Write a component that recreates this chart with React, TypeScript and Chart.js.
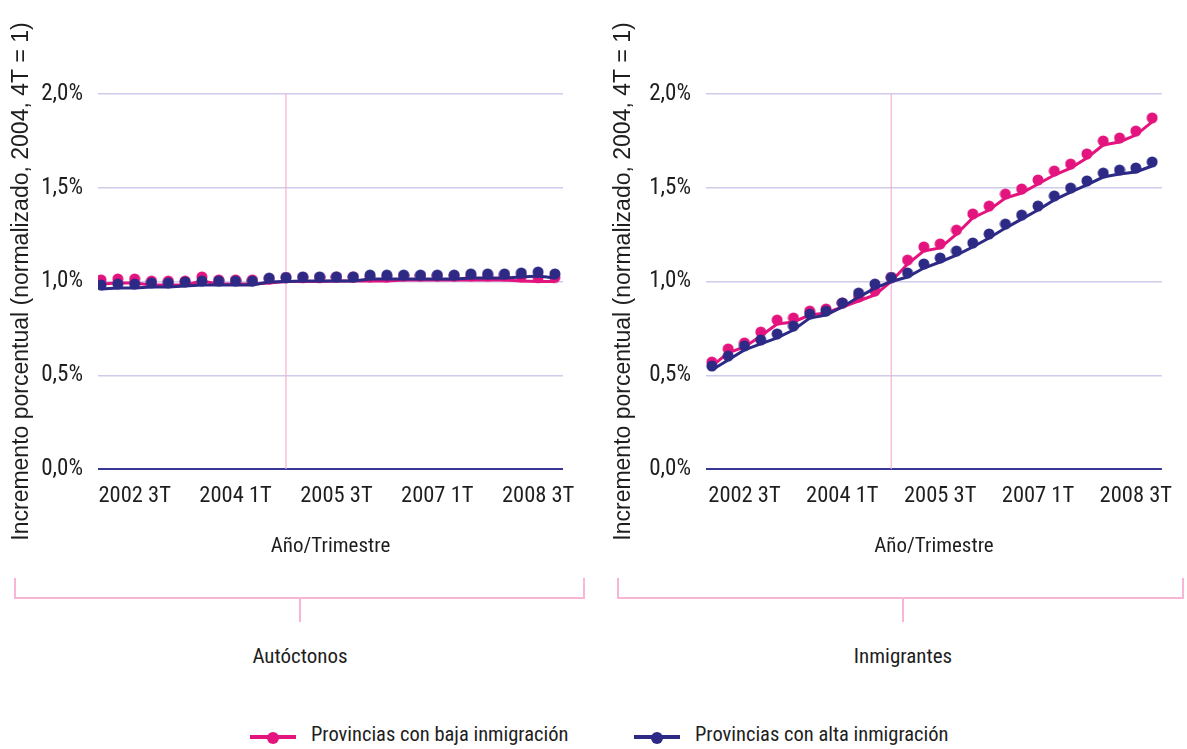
import React, { useEffect, useRef } from 'react';
import { Chart, registerables } from 'chart.js';

Chart.register(...registerables);

// ---------- DATA ----------
const quarters = [
  '2002 1T', '2002 2T', '2002 3T', '2002 4T',
  '2003 1T', '2003 2T', '2003 3T', '2003 4T',
  '2004 1T', '2004 2T', '2004 3T', '2004 4T',
  '2005 1T', '2005 2T', '2005 3T', '2005 4T',
  '2006 1T', '2006 2T', '2006 3T', '2006 4T',
  '2007 1T', '2007 2T', '2007 3T', '2007 4T',
  '2008 1T', '2008 2T', '2008 3T', '2008 4T',
];
const xTickIndexes = [2, 8, 14, 20, 26];
const baseQuarterIndex = 11; // 2004 4T = 1
const yTickValues = [0, 0.5, 1.0, 1.5, 2.0];

// Autóctonos (percent)
const autoBaja = [
  0.987, 0.992, 0.992, 0.981, 0.981, 0.981, 1.003, 0.987, 0.987, 0.987,
  0.992, 1.0, 1.0, 1.0, 1.003, 1.003, 1.003, 1.003, 1.008, 1.008,
  1.008, 1.008, 1.008, 1.008, 1.008, 1.003, 1.0, 1.0,
];
const autoAlta = [
  0.96, 0.965, 0.965, 0.971, 0.971, 0.976, 0.981, 0.981, 0.981, 0.981,
  0.997, 1.0, 1.003, 1.003, 1.003, 1.003, 1.013, 1.013, 1.013, 1.013,
  1.013, 1.013, 1.019, 1.019, 1.019, 1.024, 1.029, 1.019,
];
// Inmigrantes (percent)
const inmiBaja = [
  0.549, 0.619, 0.651, 0.709, 0.773, 0.784, 0.821, 0.832, 0.864, 0.896,
  0.928, 1.0, 1.093, 1.163, 1.179, 1.253, 1.339, 1.381, 1.445, 1.472,
  1.52, 1.568, 1.605, 1.659, 1.728, 1.744, 1.781, 1.851,
];
const inmiAlta = [
  0.528, 0.581, 0.635, 0.667, 0.699, 0.741, 0.805, 0.821, 0.864, 0.917,
  0.965, 1.0, 1.024, 1.072, 1.104, 1.141, 1.184, 1.232, 1.285, 1.333,
  1.381, 1.435, 1.477, 1.515, 1.557, 1.573, 1.584, 1.616,
];

const seriesNames = ['Provincias con baja inmigración', 'Provincias con alta inmigración'];
const panelNames = ['Autóctonos', 'Inmigrantes'];
const yTitle = 'Incremento porcentual (normalizado, 2004, 4T = 1)';
const xTitle = 'Año/Trimestre';

// ---------- STYLE ----------
const PINK = '#e4147e';
const NAVY = '#2d2a86';
const GRID = '#cfcbea';
const ZERO = '#3a3696';
const VLINE = '#f4b0d2';
const BRACKET = '#f7b6d6';
const TEXT = '#1e1e1e';
const NARROW = "'Liberation Sans Narrow', 'Arial Narrow', 'Roboto Condensed', 'DejaVu Sans Condensed', 'Liberation Sans', sans-serif";
const WIDE = "'Liberation Sans', Arial, sans-serif";

function makeDot(color: string) {
  const c = document.createElement('canvas');
  c.width = 12;
  c.height = 20;
  const g = c.getContext('2d')!;
  g.fillStyle = color;
  g.beginPath();
  g.arc(6, 6, 5.5, 0, Math.PI * 2);
  g.fill();
  return c;
}

type PanelProps = {
  left: number;
  width: number;
  height: number;
  axisWidth: number;
  rightPad: number;
  titlePad: number;
  xMin: number;
  xMax: number;
  baja: number[];
  alta: number[];
};

function Panel(p: PanelProps) {
  const ref = useRef<HTMLCanvasElement | null>(null);
  useEffect(() => {
    if (!ref.current) return;
    const vline = {
      id: 'vline',
      beforeDatasetsDraw(chart: any) {
        const { ctx, chartArea, scales } = chart;
        const x = scales.x.getPixelForValue(baseQuarterIndex);
        ctx.save();
        ctx.strokeStyle = VLINE;
        ctx.lineWidth = 1.2;
        ctx.beginPath();
        ctx.moveTo(x, chartArea.top);
        ctx.lineTo(x, chartArea.bottom);
        ctx.stroke();
        ctx.restore();
      },
    };
    const chart = new Chart(ref.current, {
      type: 'line',
      data: {
        datasets: [
          {
            label: seriesNames[1],
            data: p.alta.map((v, i) => ({ x: i, y: v })),
            borderColor: NAVY,
            backgroundColor: NAVY,
            borderWidth: 3,
            pointStyle: makeDot(NAVY) as any,
            pointRadius: 6,
            tension: 0,
          },
          {
            label: seriesNames[0],
            data: p.baja.map((v, i) => ({ x: i, y: v })),
            borderColor: PINK,
            backgroundColor: PINK,
            borderWidth: 3,
            pointStyle: makeDot(PINK) as any,
            pointRadius: 6,
            tension: 0,
          },
        ],
      },
      options: {
        responsive: false,
        animation: false,
        events: [],
        layout: { padding: { top: 94, right: p.rightPad, left: 0, bottom: 0 } },
        plugins: { legend: { display: false }, tooltip: { enabled: false } },
        scales: {
          x: {
            type: 'linear',
            min: p.xMin,
            max: p.xMax,
            grid: { display: false, drawTicks: false },
            border: { display: false },
            afterBuildTicks: (s: any) => {
              s.ticks = xTickIndexes.map((v) => ({ value: v }));
            },
            afterFit: (s: any) => {
              s.height = p.height - 469;
            },
            ticks: {
              autoSkip: false,
              maxRotation: 0,
              padding: 14,
              color: TEXT,
              font: { family: NARROW, size: 22.5 },
              callback: (v: any) => quarters[v as number] ?? '',
            },
            title: {
              display: true,
              text: xTitle,
              color: TEXT,
              font: { family: NARROW, size: 21 },
              padding: { top: 0, bottom: 16 },
            },
          },
          y: {
            min: 0,
            max: 2,
            afterBuildTicks: (s: any) => {
              s.ticks = yTickValues.map((v) => ({ value: v }));
            },
            afterFit: (s: any) => {
              s.width = p.axisWidth;
            },
            grid: {
              drawTicks: false,
              color: (c: any) => (c.tick && c.tick.value === 0 ? ZERO : GRID),
              lineWidth: (c: any) => (c.tick && c.tick.value === 0 ? 2 : 1.5),
            },
            border: { display: false },
            ticks: {
              padding: 15,
              color: TEXT,
              font: { family: NARROW, size: 23 },
              callback: (v: any) => Number(v).toFixed(1).replace('.', ',') + '%',
            },
            title: {
              display: true,
              text: yTitle,
              color: TEXT,
              font: { family: WIDE, size: 23 },
              padding: { top: p.titlePad, bottom: 0 },
            },
          },
        },
      },
      plugins: [vline],
    } as any);
    return () => chart.destroy();
  }, []);
  return (
    <canvas
      ref={ref}
      width={p.width}
      height={p.height}
      style={{ position: 'absolute', left: p.left, top: 0, width: p.width, height: p.height }}
    />
  );
}

function Bracket({ x1, x2, xm, label }: { x1: number; x2: number; xm: number; label: string }) {
  const y = 598;
  return (
    <>
      <div style={{ position: 'absolute', left: x1, top: y - 1, width: x2 - x1, height: 2, background: BRACKET }} />
      <div style={{ position: 'absolute', left: x1, top: 578, width: 2, height: y - 578 + 1, background: BRACKET }} />
      <div style={{ position: 'absolute', left: x2 - 1, top: 578, width: 2, height: y - 578 + 1, background: BRACKET }} />
      <div style={{ position: 'absolute', left: xm - 1, top: y, width: 2, height: 24, background: BRACKET }} />
      <div
        style={{
          position: 'absolute', left: xm - 150, width: 300, top: 644, height: 28, lineHeight: '28px',
          textAlign: 'center', font: `21px ${NARROW}`, color: TEXT,
        }}
      >
        {label}
      </div>
    </>
  );
}

function LegendItem({ x, color, text }: { x: number; color: string; text: string }) {
  return (
    <>
      <div style={{ position: 'absolute', left: x, top: 735, width: 46, height: 4, background: color }} />
      <div style={{ position: 'absolute', left: x + 17, top: 731.5, width: 12, height: 12, borderRadius: 6, background: color }} />
      <div
        style={{
          position: 'absolute', left: x + 61, top: 722, height: 30, lineHeight: '30px',
          font: `20.5px ${NARROW}`, color: TEXT, whiteSpace: 'nowrap',
        }}
      >
        {text}
      </div>
    </>
  );
}

export default function App() {
  return (
    <div style={{ position: 'fixed', left: 0, top: 0, width: 1187, height: 749, background: '#fff', overflow: 'hidden' }}>
      <Panel left={0} width={590} height={575} axisWidth={98} rightPad={27} titlePad={8}
        xMin={-0.18} xMax={27.48} baja={autoBaja} alta={autoAlta} />
      <Panel left={600} width={587} height={575} axisWidth={106} rightPad={17} titlePad={10}
        xMin={-0.36} xMax={27.6} baja={inmiBaja} alta={inmiAlta} />
      <Bracket x1={14} x2={584} xm={300} label={panelNames[0]} />
      <Bracket x1={617} x2={1183} xm={903} label={panelNames[1]} />
      <LegendItem x={250} color={PINK} text={seriesNames[0]} />
      <LegendItem x={634} color={NAVY} text={seriesNames[1]} />
    </div>
  );
}
